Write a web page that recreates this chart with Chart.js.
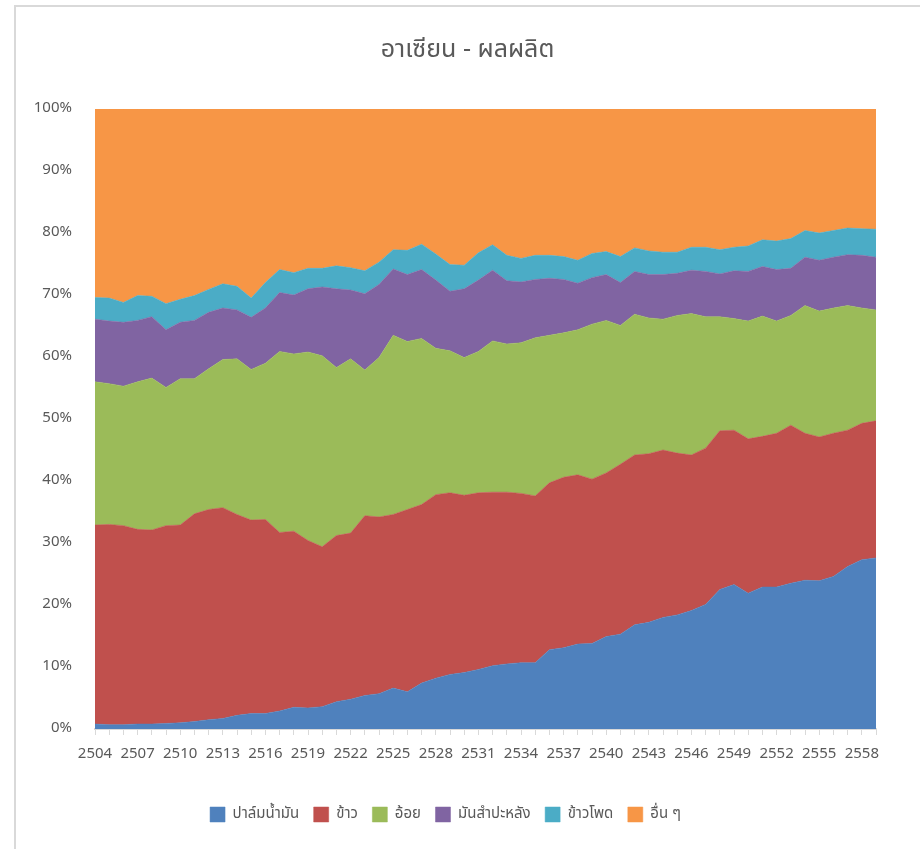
<!DOCTYPE html>
<html>
<head>
<meta charset="utf-8">
<script src="https://cdn.jsdelivr.net/npm/chart.js@4.4.1/dist/chart.umd.min.js"></script>
<style>
  html, body { margin: 0; padding: 0; background: #fff; }
  #wrap { position: relative; width: 920px; height: 849px; }
</style>
</head>
<body>
<div id="wrap"><canvas id="productionChart"></canvas></div>
<script>
// ปี พ.ศ. 2504 - 2559
const years = [];
for (let y = 2504; y <= 2559; y++) years.push(String(y));

// สัดส่วนผลผลิต (%) อ่านจากภาพ
const palmOil = [0.8, 0.7, 0.7, 0.8, 0.8, 0.9, 1.0, 1.2, 1.5, 1.7, 2.2, 2.5, 2.5, 2.9, 3.5, 3.4, 3.6, 4.4, 4.8, 5.4,
  5.7, 6.6, 6.0, 7.4, 8.2, 8.8, 9.1, 9.6, 10.2, 10.5, 10.7, 10.7, 12.8, 13.1, 13.7, 13.8, 14.9, 15.3, 16.8, 17.2,
  18.0, 18.4, 19.1, 20.1, 22.5, 23.3, 21.9, 22.9, 22.9, 23.5, 24.0, 23.9, 24.6, 26.2, 27.3, 27.6];
const rice = [32.1, 32.3, 32.1, 31.4, 31.3, 31.9, 31.9, 33.5, 33.9, 34.0, 32.4, 31.2, 31.3, 28.8, 28.4, 27.0, 25.8, 26.8, 26.8, 29.0,
  28.5, 28.0, 29.4, 28.8, 29.6, 29.3, 28.6, 28.5, 28.0, 27.7, 27.3, 26.9, 26.9, 27.5, 27.3, 26.5, 26.4, 27.4, 27.4, 27.2,
  27.0, 26.1, 25.1, 25.2, 25.6, 24.9, 24.9, 24.3, 24.8, 25.5, 23.7, 23.2, 23.1, 22.0, 22.0, 22.1];
const sugarcane = [23.1, 22.7, 22.5, 23.8, 24.5, 22.3, 23.6, 21.8, 22.7, 23.9, 25.1, 24.3, 25.2, 29.2, 28.6, 30.4, 30.8, 27.1, 28.1, 23.5,
  25.7, 28.9, 27.1, 26.8, 23.6, 22.9, 22.2, 22.8, 24.4, 23.9, 24.3, 25.5, 23.8, 23.3, 23.4, 25.0, 24.6, 22.4, 22.7, 21.9,
  21.1, 22.2, 22.8, 21.2, 18.4, 18.0, 19.0, 19.4, 18.1, 17.7, 20.6, 20.3, 20.2, 20.1, 18.6, 17.9];
const cassava = [10.1, 10.1, 10.3, 9.9, 9.9, 9.3, 9.1, 9.4, 9.1, 8.3, 7.9, 8.4, 8.9, 9.5, 9.5, 10.2, 11.1, 12.7, 11.1, 12.3,
  11.8, 10.7, 10.8, 11.1, 11.0, 9.6, 11.1, 11.5, 11.4, 10.2, 9.8, 9.4, 9.2, 8.6, 7.5, 7.5, 7.4, 6.9, 6.9, 7.0,
  7.2, 6.8, 7.0, 7.3, 6.9, 7.7, 8.0, 8.0, 8.3, 7.6, 7.8, 8.2, 8.2, 8.2, 8.5, 8.5];
const maize = [3.5, 3.7, 3.2, 4.0, 3.3, 4.2, 3.7, 4.0, 3.7, 3.9, 3.8, 3.1, 4.1, 3.7, 3.6, 3.3, 3.0, 3.7, 3.6, 3.7,
  3.6, 3.1, 3.9, 4.1, 4.2, 4.3, 3.8, 4.4, 4.1, 4.1, 3.8, 3.9, 3.7, 3.7, 3.7, 3.9, 3.7, 4.2, 3.8, 3.8,
  3.6, 3.4, 3.7, 3.9, 3.9, 3.8, 4.1, 4.3, 4.6, 4.8, 4.3, 4.4, 4.3, 4.3, 4.3, 4.5];
const others = [30.4, 30.5, 31.2, 30.1, 30.2, 31.4, 30.7, 30.1, 29.1, 28.2, 28.6, 30.5, 28.0, 25.9, 26.4, 25.7, 25.7, 25.3, 25.6, 26.1,
  24.7, 22.7, 22.8, 21.8, 23.4, 25.1, 25.2, 23.2, 21.9, 23.6, 24.1, 23.6, 23.6, 23.8, 24.4, 23.3, 23.0, 23.8, 22.4, 22.9,
  23.1, 23.1, 22.3, 22.3, 22.7, 22.3, 22.1, 21.1, 21.3, 20.9, 19.6, 20.0, 19.6, 19.2, 19.3, 19.4];

const chartTitle = 'อาเซียน - ผลผลิต';
const seriesNames = ['ปาล์มน้ำมัน', 'ข้าว', 'อ้อย', 'มันสำปะหลัง', 'ข้าวโพด', 'อื่น ๆ'];
const seriesData = [palmOil, rice, sugarcane, cassava, maize, others];
const seriesColors = ['#4F81BD', '#C0504D', '#9BBB59', '#8064A2', '#4BACC6', '#F79646'];

const fontFamily = "'Noto Sans Thai', 'Leelawadee UI', Tahoma, 'Noto Sans', 'DejaVu Sans', sans-serif";
const textColor = '#595959';

// กรอบสีเทาด้านซ้ายและด้านบนแบบ Excel + ชื่อกราฟกึ่งกลางกรอบ
const frameAndTitle = {
  id: 'frameAndTitle',
  beforeDraw(chart) {
    const ctx = chart.ctx;
    ctx.save();
    ctx.strokeStyle = '#d9d9d9';
    ctx.lineWidth = 2;
    ctx.beginPath();
    ctx.moveTo(15, chart.height);
    ctx.lineTo(15, 6);
    ctx.lineTo(chart.width, 6);
    ctx.stroke();

    ctx.fillStyle = textColor;
    ctx.font = '25px ' + fontFamily;
    ctx.textAlign = 'center';
    ctx.textBaseline = 'middle';
    ctx.fillText(chartTitle, (15 + chart.width) / 2, 52);
    ctx.restore();
  }
};

document.addEventListener('DOMContentLoaded', () => {
  const ctx = document.getElementById('productionChart').getContext('2d');
  new Chart(ctx, {
    type: 'line',
    data: {
      labels: years,
      datasets: seriesData.map((d, i) => ({
        label: seriesNames[i],
        data: d,
        backgroundColor: seriesColors[i],
        borderColor: seriesColors[i],
        borderWidth: 0.5,
        pointRadius: 0,
        tension: 0,
        fill: i === 0 ? 'origin' : '-1'
      }))
    },
    options: {
      responsive: true,
      maintainAspectRatio: false,
      animation: false,
      layout: { padding: { left: 15, right: 44, top: 109, bottom: 17 } },
      plugins: {
        title: { display: false },
        legend: {
          position: 'bottom',
          labels: {
            color: textColor,
            font: { family: fontFamily, size: 15 },
            boxWidth: 15,
            boxHeight: 15,
            padding: 14.5
          }
        },
        tooltip: { enabled: false }
      },
      scales: {
        x: {
          afterFit: scale => { scale.height += 17.5; },
          grid: { display: true, drawOnChartArea: false, color: '#d9d9d9', tickLength: 6 },
          border: { color: '#d9d9d9', width: 2 },
          ticks: {
            autoSkip: false,
            maxRotation: 0,
            padding: 11,
            color: textColor,
            font: { family: fontFamily, size: 15 },
            callback: function (value, index) {
              return index % 3 === 0 ? this.getLabelForValue(value) : '';
            }
          }
        },
        y: {
          stacked: true,
          min: 0,
          max: 100,
          afterFit: scale => { scale.width = 80; },
          grid: { display: false },
          border: { display: false },
          ticks: {
            stepSize: 10,
            padding: 15,
            color: textColor,
            font: { family: fontFamily, size: 15 },
            callback: v => v + '%'
          }
        }
      }
    },
    plugins: [frameAndTitle]
  });
});
</script>
</body>
</html>
